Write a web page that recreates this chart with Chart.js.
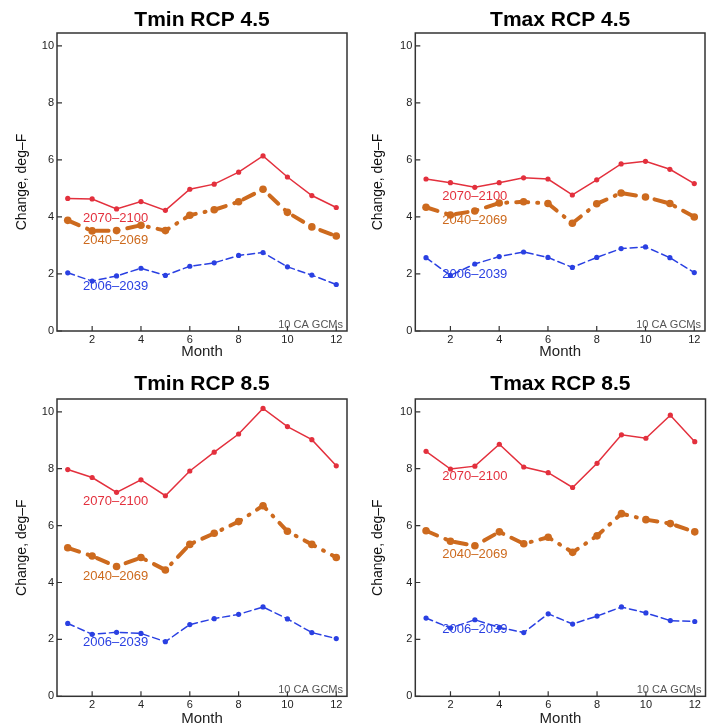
<!DOCTYPE html>
<html><head><meta charset="utf-8">
<script src="https://cdn.jsdelivr.net/npm/chart.js@4.4.1/dist/chart.umd.min.js"></script>
<style>
body{margin:0;background:#fff}
#wrap{position:relative;width:712px;height:728px;background:#fff}
canvas{position:absolute}
</style>
</head><body>
<div id="wrap">
<canvas id="c1" width="356" height="364" style="left:0;top:0"></canvas>
<canvas id="c2" width="356" height="364" style="left:356px;top:0"></canvas>
<canvas id="c3" width="356" height="364" style="left:0;top:364px"></canvas>
<canvas id="c4" width="356" height="364" style="left:356px;top:364px"></canvas>
</div>
<script>
// ---- data ----
const months = [1,2,3,4,5,6,7,8,9,10,11,12];
const xTicks = [2,4,6,8,10,12];
const yTicks = [0,2,4,6,8,10];
const periodLabels = ['2070–2100','2040–2069','2006–2039'];
const panelTitles = ['Tmin RCP 4.5','Tmax RCP 4.5','Tmin RCP 8.5','Tmax RCP 8.5'];
const yAxisTitle = 'Change, deg–F';
const xAxisTitle = 'Month';
const noteText = '10 CA GCMs';

const tminRcp45_2070 = [4.65,4.63,4.28,4.54,4.23,4.97,5.15,5.57,6.14,5.40,4.75,4.33];
const tminRcp45_2040 = [3.88,3.51,3.52,3.71,3.52,4.06,4.25,4.53,4.97,4.16,3.65,3.33];
const tminRcp45_2006 = [2.04,1.75,1.93,2.20,1.95,2.27,2.39,2.65,2.75,2.25,1.96,1.63];

const tmaxRcp45_2070 = [5.33,5.20,5.04,5.20,5.37,5.33,4.77,5.30,5.86,5.95,5.67,5.17];
const tmaxRcp45_2040 = [4.34,4.07,4.21,4.49,4.53,4.47,3.78,4.46,4.84,4.70,4.47,4.00];
const tmaxRcp45_2006 = [2.57,1.95,2.35,2.61,2.77,2.58,2.23,2.58,2.89,2.95,2.57,2.05];

const tminRcp85_2070 = [7.97,7.69,7.17,7.61,7.05,7.92,8.58,9.22,10.12,9.48,9.02,8.10];
const tminRcp85_2040 = [5.22,4.93,4.56,4.88,4.44,5.34,5.73,6.14,6.70,5.80,5.34,4.88];
const tminRcp85_2006 = [2.56,2.18,2.25,2.21,1.92,2.52,2.73,2.88,3.14,2.72,2.24,2.03];

const tmaxRcp85_2070 = [8.61,7.99,8.09,8.86,8.06,7.86,7.34,8.19,9.19,9.07,9.88,8.95];
const tmaxRcp85_2040 = [5.82,5.45,5.29,5.78,5.36,5.59,5.06,5.64,6.42,6.21,6.07,5.78];
const tmaxRcp85_2006 = [2.75,2.40,2.69,2.42,2.24,2.90,2.54,2.82,3.14,2.93,2.66,2.63];

// ---- styling / layout (not data) ----
Chart.defaults.font.family = "'Liberation Sans', Arial, Helvetica, sans-serif";
Chart.defaults.color = '#222';

const COLORS = ['#e3303d', '#cd6a1e', '#2a40e2'];
const seriesStyle = [
  {borderWidth:1.5, borderDash:[], pointRadius:2.6},
  {borderWidth:4, borderDash:[12,9,1,9], pointRadius:3.8},
  {borderWidth:1.5, borderDash:[7,4], pointRadius:2.6}
];

const panels = [
  {id:'c1', title:panelTitles[0], series:[tminRcp45_2070,tminRcp45_2040,tminRcp45_2006],
   labelAt:[[2.96,3.95],[2.96,3.19],[2.96,1.58]], box:{left:57,right:347,top:33,bottom:331}, xTitlePad:3},
  {id:'c2', title:panelTitles[1], series:[tmaxRcp45_2070,tmaxRcp45_2040,tmaxRcp45_2006],
   labelAt:[[3.0,4.71],[3.0,3.89],[3.0,2.0]], box:{left:59.3,right:349,top:33,bottom:331}, xTitlePad:3},
  {id:'c3', title:panelTitles[2], series:[tminRcp85_2070,tminRcp85_2040,tminRcp85_2006],
   labelAt:[[2.96,6.85],[2.96,4.22],[2.96,1.90]], box:{left:57,right:347,top:35,bottom:332.3}, xTitlePad:0},
  {id:'c4', title:panelTitles[3], series:[tmaxRcp85_2070,tmaxRcp85_2040,tmaxRcp85_2006],
   labelAt:[[3.0,7.73],[3.0,4.98],[3.0,2.35]], box:{left:59.3,right:349.5,top:35,bottom:332.3}, xTitlePad:0}
];

const framePlugin = {
  id:'framePlugin',
  afterDatasetsDraw(chart, args, opts){
    const ctx = chart.ctx;
    const xs = chart.scales.x, ys = chart.scales.y;
    ctx.save();
    ctx.font = "13px 'Liberation Sans', Arial, sans-serif";
    ctx.textAlign = 'center';
    ctx.textBaseline = 'middle';
    opts.labelAt.forEach((p, i) => {
      ctx.fillStyle = COLORS[i];
      ctx.fillText(periodLabels[i], xs.getPixelForValue(p[0]), ys.getPixelForValue(p[1]));
    });
    ctx.restore();
  },
  afterDraw(chart){
    const ctx = chart.ctx;
    const a = chart.chartArea;
    const xs = chart.scales.x, ys = chart.scales.y;
    ctx.save();
    ctx.strokeStyle = '#333';
    ctx.lineWidth = 1.5;
    ctx.strokeRect(a.left, a.top, a.right - a.left, a.bottom - a.top);
    ctx.lineWidth = 1.2;
    ctx.beginPath();
    yTicks.forEach(v => { const py = ys.getPixelForValue(v); ctx.moveTo(a.left, py); ctx.lineTo(a.left + 5, py); });
    xTicks.forEach(v => { const px = xs.getPixelForValue(v); ctx.moveTo(px, a.bottom); ctx.lineTo(px, a.bottom - 5); });
    ctx.stroke();
    ctx.fillStyle = '#555';
    ctx.font = "11px 'Liberation Sans', Arial, sans-serif";
    ctx.textAlign = 'right';
    ctx.textBaseline = 'alphabetic';
    ctx.fillText(noteText, a.right - 4, a.bottom - 3);
    ctx.restore();
  }
};

panels.forEach(p => {
  const b = p.box;
  const datasets = p.series.map((vals, i) => ({
    label: periodLabels[i],
    data: months.map((m, k) => ({x: m, y: vals[k]})),
    borderColor: COLORS[i],
    backgroundColor: COLORS[i],
    borderWidth: seriesStyle[i].borderWidth,
    borderDash: seriesStyle[i].borderDash,
    borderCapStyle: 'round',
    pointRadius: seriesStyle[i].pointRadius,
    pointBorderWidth: 0,
    pointBackgroundColor: COLORS[i],
    tension: 0,
    fill: false,
    order: i === 0 ? 0 : i
  }));
  new Chart(document.getElementById(p.id), {
    type: 'line',
    data: {datasets},
    plugins: [framePlugin],
    options: {
      responsive: false,
      devicePixelRatio: 1,
      animation: false,
      events: [],
      layout: {padding: {left: 0, right: 356 - b.right, top: 0, bottom: 0}},
      plugins: {
        legend: {display: false},
        tooltip: {enabled: false},
        title: {
          display: true, text: p.title, fullSize: false,
          color: '#000',
          font: {size: 21, weight: 'bold', lineHeight: 1.2},
          padding: {top: 7.4, bottom: b.top - 25.2 - 7.4}
        },
        framePlugin: {labelAt: p.labelAt}
      },
      scales: {
        x: {
          type: 'linear', min: 0.56, max: 12.44,
          grid: {display: false, drawTicks: false},
          border: {display: false},
          afterBuildTicks: s => { s.ticks = xTicks.map(v => ({value: v})); },
          afterFit: s => { s.height = 364 - b.bottom; },
          ticks: {font: {size: 11}, color: '#222', padding: 2, maxRotation: 0},
          title: {display: true, text: xAxisTitle, color: '#222', font: {size: 15, lineHeight: 1.2}, padding: {top: 0, bottom: p.xTitlePad}}
        },
        y: {
          type: 'linear', min: 0, max: 10.45,
          grid: {display: false, drawTicks: false},
          border: {display: false},
          afterBuildTicks: s => { s.ticks = yTicks.map(v => ({value: v})); },
          afterFit: s => { s.width = b.left; },
          ticks: {font: {size: 11}, color: '#222', padding: 3},
          title: {display: true, text: yAxisTitle, color: '#111', font: {size: 14, lineHeight: 1.2}, padding: {top: 13.6, bottom: 0}}
        }
      }
    }
  });
});
</script>
</body></html>
